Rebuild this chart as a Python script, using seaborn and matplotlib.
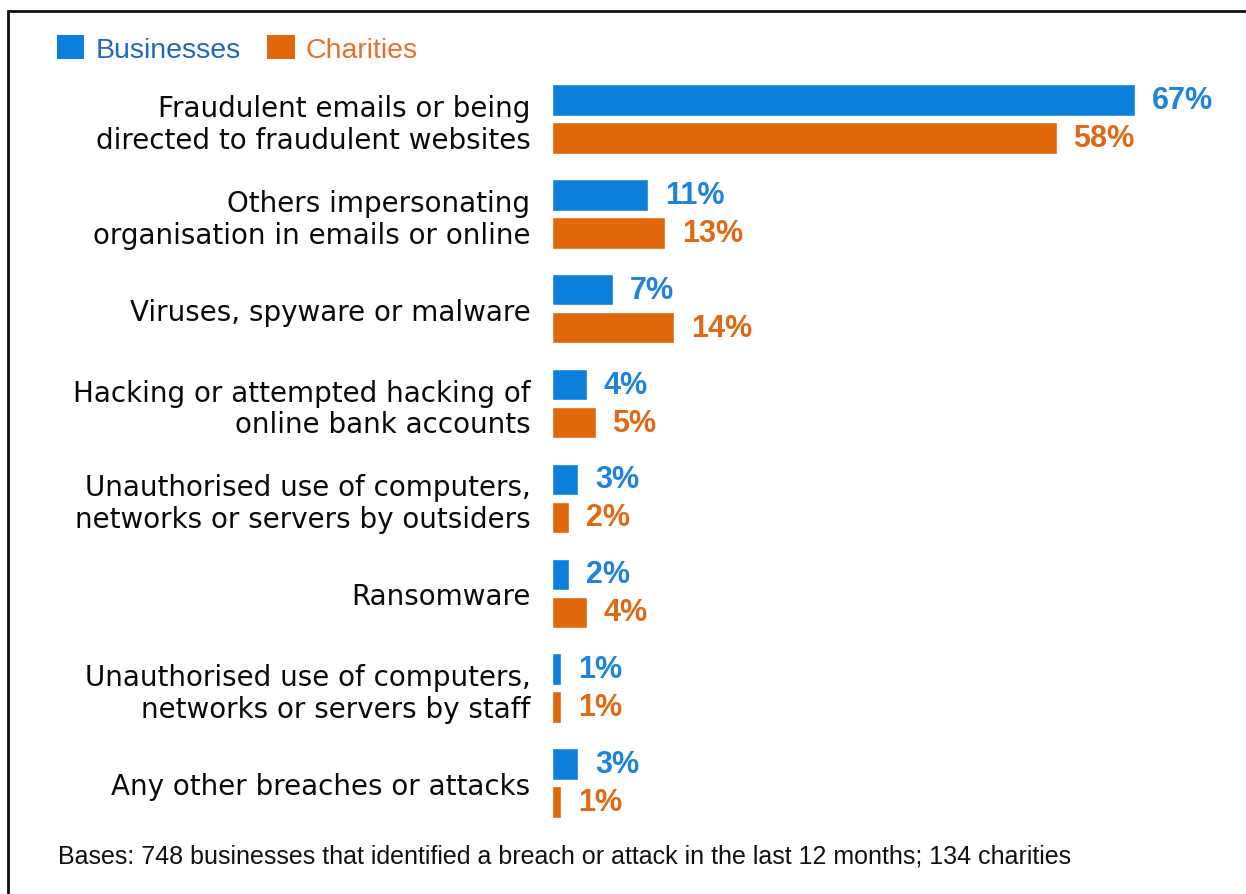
import matplotlib
matplotlib.use("Agg")
import matplotlib.pyplot as plt
from matplotlib.patches import Rectangle, Patch
import pandas as pd
import seaborn as sns

categories = [
    "Fraudulent emails or being\ndirected to fraudulent websites",
    "Others impersonating\norganisation in emails or online",
    "Viruses, spyware or malware",
    "Hacking or attempted hacking of\nonline bank accounts",
    "Unauthorised use of computers,\nnetworks or servers by outsiders",
    "Ransomware",
    "Unauthorised use of computers,\nnetworks or servers by staff",
    "Any other breaches or attacks",
]
businesses = [67, 11, 7, 4, 3, 2, 1, 3]
charities = [58, 13, 14, 5, 2, 4, 1, 1]
series_names = ["Businesses", "Charities"]
footnote = "Bases: 748 businesses that identified a breach or attack in the last 12 months; 134 charities"

BAR_COLORS = ["#0B7FDA", "#E0680A"]
LABEL_COLORS = ["#1F83DC", "#E06A14"]
LEGEND_TEXT_COLORS = ["#1E68BE", "#E8702A"]

df = pd.DataFrame({
    "category": categories * 2,
    "value": businesses + charities,
    "org": [series_names[0]] * len(categories) + [series_names[1]] * len(categories),
})

sns.set_style("white")
plt.rcParams["font.family"] = ["DejaVu Sans"]

W, H = 1246, 895
fig = plt.figure(figsize=(W / 100, H / 100), dpi=100)
fig.patch.set_facecolor("white")

x0_px, px_per_unit = 552, 8.7
xmax = 78.0
top_px, bottom_px = 72.5, 831.5
ax = fig.add_axes([
    x0_px / W,
    1 - bottom_px / H,
    xmax * px_per_unit / W,
    (bottom_px - top_px) / H,
])

sns.barplot(
    data=df, x="value", y="category", hue="org",
    palette=BAR_COLORS, orient="h", width=0.8, gap=0.17,
    legend=False, saturation=1, ax=ax,
)

ax.set_xlim(0, xmax)
ax.set_ylim(len(categories) - 0.5, -0.5)
ax.set_xlabel("")
ax.set_ylabel("")
ax.set_xticks([])
for s in ax.spines.values():
    s.set_visible(False)

ax.tick_params(axis="y", length=0, pad=15.5, labelsize=20, labelcolor="#0A0A0A")
for t in ax.get_yticklabels():
    t.set_linespacing(1.17)
    t.set_y(t.get_position()[1])

for cont, vals, col in zip(ax.containers, [businesses, charities], LABEL_COLORS):
    ax.bar_label(
        cont, labels=[f"{v}%" for v in vals], padding=12.2,
        color=col, fontsize=22, fontweight="bold",
        family=["Liberation Sans", "DejaVu Sans"],
    )

handles = [Patch(facecolor=c, edgecolor="none") for c in BAR_COLORS]
leg = fig.legend(
    handles, series_names, loc="center left",
    bbox_to_anchor=(57 / W, 1 - 50 / H), ncol=2, frameon=False,
    borderpad=0, borderaxespad=0, handlelength=0.95, handleheight=0.92,
    handletextpad=0.39, columnspacing=0.95,
    prop={"family": ["Liberation Sans", "DejaVu Sans"], "size": 20.5},
)
for txt, col in zip(leg.get_texts(), LEGEND_TEXT_COLORS):
    txt.set_color(col)

fig.text(58 / W, 1 - 857 / H, footnote, ha="left", va="center",
         fontsize=18, color="#111111", family=["Liberation Sans", "DejaVu Sans"])

# outer frame (open at the right and bottom edges)
fig.patches.append(Rectangle(
    (8 / W, -0.2), 1.2, 1.2 - 12 / H,
    transform=fig.transFigure, fill=False, edgecolor="#111111", linewidth=2.0,
))

fig.savefig("out.png", dpi=100, facecolor="white")
